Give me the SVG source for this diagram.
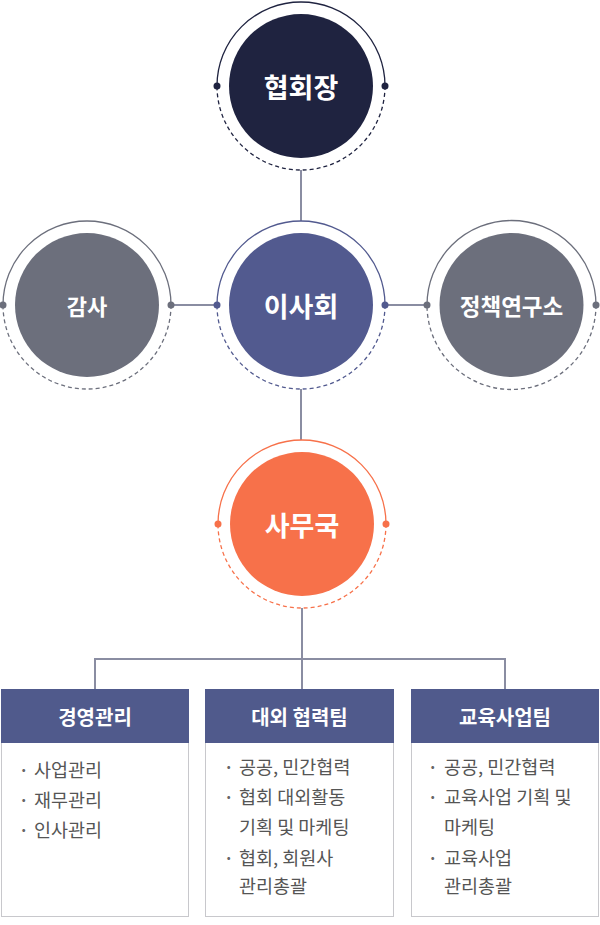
<svg xmlns="http://www.w3.org/2000/svg" width="600" height="925" viewBox="0 0 600 925">
<style>
.solid{fill:none;stroke-width:1.3}
.dash{fill:none;stroke-width:1.3;stroke-dasharray:4 3}
.ctitle{font-family:"Noto Sans CJK KR","Noto Sans",sans-serif;font-weight:bold;fill:#fff;text-anchor:middle;dominant-baseline:central}
.conn{stroke:#8a8da2;stroke-width:2;fill:none}
.hdr{fill:#505a8c}
.htxt{font-family:"Noto Sans CJK KR","Noto Sans",sans-serif;font-weight:bold;font-size:20px;fill:#fff;text-anchor:middle;dominant-baseline:central}
.body{font-family:"Noto Sans CJK KR","Noto Sans",sans-serif;font-size:18.5px;fill:#555}
.bul{font-family:"Noto Sans CJK KR","Noto Sans",sans-serif;font-size:16px;fill:#666;font-weight:bold}
.box{fill:#fff;stroke:#c8c8cc;stroke-width:1}
</style>
<rect width="600" height="925" fill="#fff"/>
<g id="connectors">
<line class="conn" x1="301" y1="170" x2="301" y2="221"/>
<line class="conn" x1="172" y1="305" x2="217" y2="305"/>
<line class="conn" x1="385" y1="305" x2="427" y2="305"/>
<line class="conn" x1="301" y1="389" x2="301" y2="440"/>
<line class="conn" x1="302" y1="608" x2="302" y2="659"/>
<polyline class="conn" points="95,689 95,659 505,659 505,689"/>
<line class="conn" x1="302" y1="659" x2="302" y2="689"/>
</g>
<g id="president">
<path class="solid" stroke="#1f2340" d="M217,86 A84,84 0 0 1 385,86"/>
<path class="dash" stroke="#1f2340" d="M385,86 A84,84 0 0 1 217,86"/>
<circle cx="217" cy="86" r="3.5" fill="#1f2340"/>
<circle cx="385" cy="86" r="3.5" fill="#1f2340"/>
<circle cx="301" cy="86" r="72" fill="#1f2340"/>
<text class="ctitle" x="301" y="86" font-size="27">협회장</text>
</g>
<g id="audit">
<path class="solid" stroke="#6c6f7c" d="M3,305 A84,84 0 0 1 171,305"/>
<path class="dash" stroke="#6c6f7c" d="M171,305 A84,84 0 0 1 3,305"/>
<circle cx="3" cy="305" r="3.5" fill="#6c6f7c"/>
<circle cx="171" cy="305" r="3.5" fill="#6c6f7c"/>
<circle cx="87" cy="305" r="72" fill="#6c6f7c"/>
<text class="ctitle" x="87" y="305" font-size="22">감사</text>
</g>
<g id="board">
<path class="solid" stroke="#525a8f" d="M217,305 A84,84 0 0 1 385,305"/>
<path class="dash" stroke="#525a8f" d="M385,305 A84,84 0 0 1 217,305"/>
<circle cx="217" cy="305" r="3.5" fill="#525a8f"/>
<circle cx="385" cy="305" r="3.5" fill="#525a8f"/>
<circle cx="301" cy="305" r="72" fill="#525a8f"/>
<text class="ctitle" x="301" y="305" font-size="27">이사회</text>
</g>
<g id="policy">
<path class="solid" stroke="#6c6f7c" d="M427,305 A84.5,84.5 0 0 1 596,305"/>
<path class="dash" stroke="#6c6f7c" d="M596,305 A84.5,84.5 0 0 1 427,305"/>
<circle cx="427" cy="305" r="3.5" fill="#6c6f7c"/>
<circle cx="596" cy="305" r="3.5" fill="#6c6f7c"/>
<circle cx="511.5" cy="305" r="72" fill="#6c6f7c"/>
<text class="ctitle" x="511.5" y="305" font-size="22.5">정책연구소</text>
</g>
<g id="secretariat">
<path class="solid" stroke="#f7714a" d="M218,524 A84,84 0 0 1 386,524"/>
<path class="dash" stroke="#f7714a" d="M386,524 A84,84 0 0 1 218,524"/>
<circle cx="218" cy="524" r="3.5" fill="#f7714a"/>
<circle cx="386" cy="524" r="3.5" fill="#f7714a"/>
<circle cx="302" cy="524" r="72" fill="#f7714a"/>
<text class="ctitle" x="302" y="524" font-size="27">사무국</text>
</g>
<g id="mgmt">
<rect class="box" x="1.5" y="689.5" width="187" height="227"/>
<rect class="hdr" x="1" y="689" width="188" height="54"/>
<text class="htxt" x="95" y="716">경영관리</text>
<text class="bul" x="19" y="776">·</text><text class="body" x="34" y="777">사업관리</text>
<text class="bul" x="19" y="806">·</text><text class="body" x="34" y="807">재무관리</text>
<text class="bul" x="19" y="836">·</text><text class="body" x="34" y="837">인사관리</text>
</g>
<g id="external">
<rect class="box" x="205.5" y="689.5" width="188" height="227"/>
<rect class="hdr" x="205" y="689" width="189" height="54"/>
<text class="htxt" x="299.5" y="716">대외 협력팀</text>
<text class="bul" x="224" y="773">·</text><text class="body" x="239" y="774">공공, 민간협력</text>
<text class="bul" x="224" y="803">·</text><text class="body" x="239" y="804">협회 대외활동</text>
<text class="body" x="239" y="834">기획 및 마케팅</text>
<text class="bul" x="224" y="864">·</text><text class="body" x="239" y="865">협회, 회원사</text>
<text class="body" x="239" y="893">관리총괄</text>
</g>
<g id="edu">
<rect class="box" x="411.5" y="689.5" width="187" height="227"/>
<rect class="hdr" x="411" y="689" width="188" height="54"/>
<text class="htxt" x="505" y="716">교육사업팀</text>
<text class="bul" x="428" y="773">·</text><text class="body" x="444" y="774">공공, 민간협력</text>
<text class="bul" x="428" y="803">·</text><text class="body" x="444" y="804">교육사업 기획 및</text>
<text class="body" x="444" y="834">마케팅</text>
<text class="bul" x="428" y="864">·</text><text class="body" x="444" y="865">교육사업</text>
<text class="body" x="444" y="893">관리총괄</text>
</g>
</svg>
